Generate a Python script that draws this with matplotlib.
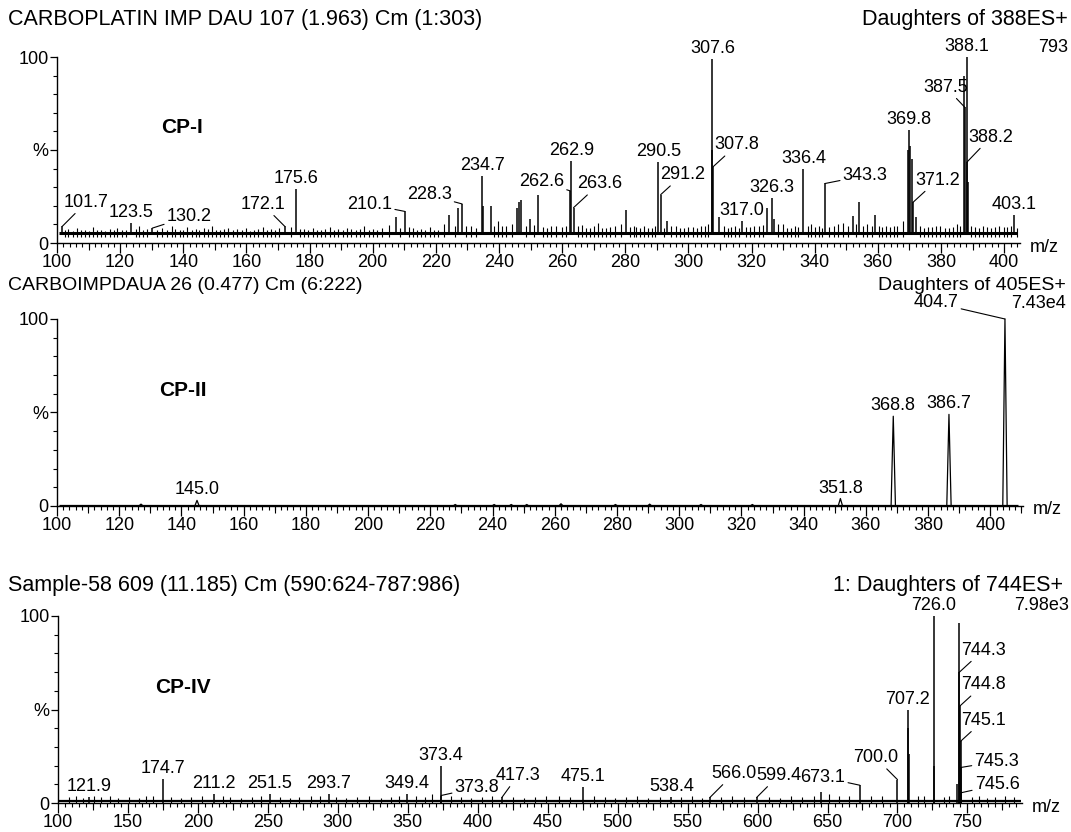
import numpy as np
import matplotlib.pyplot as plt
from matplotlib.ticker import MultipleLocator

plt.rcParams['font.family'] = ['Liberation Sans', 'DejaVu Sans']

W, H = 1071, 832

# ---- CP-I : daughters of 388 ----
top_mz = [101.7, 123.5, 130.2, 172.1, 175.6, 207.4, 210.1, 224.2, 227.1, 228.3,
          234.7, 235.0, 237.3, 245.6, 246.4, 247.1, 249.8, 252.2, 262.6, 262.9,
          263.6, 280.1, 290.5, 291.2, 293.2, 307.4, 307.6, 307.8, 309.6, 317.0,
          325.0, 326.3, 327.0, 336.4, 343.3, 352.2, 354.1, 359.0, 369.6, 369.8,
          370.3, 370.8, 371.2, 372.0, 387.2, 387.5, 388.1, 388.2, 388.5, 403.1]
top_int = [9, 11, 8, 9, 29, 14, 17, 15, 19, 21,
           36, 20, 20, 19, 22, 23, 13, 26, 28, 44,
           19, 18, 43.5, 26, 12, 50, 99, 41, 14, 12,
           19, 24, 13, 40, 32, 14.5, 22, 15, 50, 61,
           52, 45, 22, 14, 90, 73, 100, 43.5, 33, 15]
top_noise_mz = [102.4, 103.5, 105.0, 106.2, 107.6, 108.9, 110.2, 111.4, 112.7, 114.0,
                115.3, 116.8, 118.0, 119.1, 120.5, 121.7, 125.0, 126.0, 127.3, 128.4,
                131.8, 133.1, 134.7, 136.3, 137.5, 138.8, 140.0, 141.2, 142.6, 143.9,
                145.1, 146.5, 147.8, 149.2, 150.3, 151.6, 153.0, 154.3, 155.6, 157.0,
                158.5, 159.8, 161.0, 162.5, 163.8, 165.1, 166.5, 167.9, 169.2, 170.4,
                174.0, 177.0, 178.2, 179.6, 181.0, 182.4, 183.7, 185.0, 186.4, 187.8,
                189.1, 190.5, 191.8, 193.2, 194.6, 196.0, 197.3, 198.7, 200.1, 201.5,
                202.8, 205.0, 208.6, 211.5, 212.6, 214.0, 215.3, 216.7, 218.0, 219.3,
                220.7, 222.5, 226.0, 229.5, 231.0, 232.6, 238.4, 239.6, 241.0, 242.1,
                244.2, 248.5, 251.0, 253.8, 255.3, 256.6, 257.9, 260.1, 261.3, 265.0,
                266.2, 267.4, 268.7, 270.0, 271.3, 272.6, 274.0, 275.3, 276.6, 278.5,
                281.5, 282.6, 283.4, 284.7, 286.0, 287.1, 288.3, 289.4, 292.4, 294.6,
                296.0, 297.3, 298.7, 300.0, 301.4, 302.8, 304.1, 305.2, 306.2, 311.2,
                312.5, 313.6, 314.8, 316.0, 318.3, 319.6, 320.9, 322.3, 323.7, 328.4,
                329.8, 331.1, 332.4, 333.6, 334.7, 337.7, 338.9, 340.0, 341.2, 342.2,
                344.6, 346.1, 347.4, 348.8, 350.6, 353.1, 355.3, 356.7, 358.0, 360.2,
                361.4, 362.6, 363.9, 365.0, 366.2, 367.8, 373.2, 374.5, 375.8, 377.1,
                378.4, 379.8, 381.1, 382.4, 383.7, 385.0, 386.1, 389.4, 390.6, 391.9,
                393.2, 394.5, 395.9, 397.2, 398.5, 399.8, 401.0, 402.2, 404.0]
top_noise_int = [7, 7.5, 6.5, 8, 7, 7, 6.5, 8.5, 7, 7,
                 6.5, 7.5, 7, 8, 7, 7, 7.5, 9, 7, 7.5,
                 7, 8, 7, 9, 7.5, 7, 7, 8.5, 7, 7.5,
                 7, 8, 7.5, 9, 7, 7, 7.5, 8, 7, 7.5,
                 7, 8, 6.5, 7, 7.5, 8.5, 7, 7.5, 7, 8,
                 8.5, 7.5, 7.5, 7, 8, 7, 7, 7.5, 8.5, 7,
                 7.5, 7, 8, 7.5, 7, 7.5, 9, 7, 7.5, 7,
                 8, 9.5, 8, 8.5, 8, 7, 7.5, 7, 8.5, 7,
                 7, 10, 9, 9, 9, 8, 9, 12, 9, 9,
                 10, 9, 9.5, 8.5, 8, 9, 9, 8.5, 9, 9,
                 9.5, 8, 8, 9, 11, 8, 8, 8.5, 9, 10,
                 8.5, 9, 8.5, 8, 9, 8, 8, 9, 8, 9,
                 9, 8, 8, 8.5, 8.5, 8, 9, 9, 10, 9,
                 8, 8.5, 9, 8, 8.5, 8.5, 9, 9, 9.5, 10,
                 10, 8, 8, 9, 8.5, 9, 10, 8.5, 9, 8,
                 8.5, 9, 10, 11, 9, 10, 9, 10, 9, 9,
                 8.5, 9, 8.5, 9, 9, 12, 9, 8, 8.5, 8.5,
                 9, 9, 8, 8, 8.5, 10, 9, 9, 8.5, 8,
                 9, 8.5, 8, 8.5, 9, 8.5, 8.5, 9, 8]
top_base = 5.2
top_lab_mz = [101.7, 123.5, 130.2, 172.1, 175.6, 210.1, 228.3, 234.7, 262.6, 262.9,
              263.6, 290.5, 291.2, 307.6, 307.8, 317.0, 326.3, 336.4, 343.3, 369.8,
              371.2, 387.5, 388.1, 388.2, 403.1]
top_lab_int = [9, 11, 8, 9, 29, 17, 21, 36, 28, 44,
               19, 43.5, 26, 99, 41, 12, 24, 40, 32, 61,
               22, 73, 100, 43.5, 15]

# ---- CP-II : daughters of 405 ----
mid_mz = [127.0, 145.0, 228.0, 240.5, 246.0, 251.0, 262.0, 279.5, 290.5, 307.0,
          323.5, 351.8, 368.8, 386.7, 404.7]
mid_int = [1, 3, 0.8, 0.8, 0.8, 0.8, 1.2, 0.8, 1, 0.8,
           0.8, 4, 48, 49, 100]
mid_base = 0.3
mid_lab_mz = [145.0, 351.8, 368.8, 386.7, 404.7]
mid_lab_int = [3, 4, 48, 49, 100]

# ---- CP-IV : daughters of 744 ----
bot_mz = [121.9, 174.7, 211.2, 251.5, 293.7, 349.4, 373.4, 373.8, 417.3, 475.1,
          538.4, 566.0, 599.4, 645.0, 673.1, 700.0, 707.2, 707.7, 708.2, 726.0,
          726.4, 742.6, 743.9, 744.3, 744.8, 745.1, 745.3, 745.6]
bot_int = [3, 13, 5, 5, 5, 5, 20, 4, 3, 8.5,
           3, 3, 3, 6, 9.5, 12.5, 50, 40, 26, 100,
           20, 10, 96, 70, 52, 33, 19, 5.5]
bot_noise_mz = [108, 113, 118, 126, 131, 137, 143, 151, 158, 163, 168, 181, 188, 195,
                203, 218, 223, 231, 239, 245, 259, 266, 272, 281, 287, 299, 306, 314,
                322, 331, 338, 344, 356, 362, 367, 381, 388, 395, 403, 410, 425, 433,
                441, 449, 458, 466, 483, 491, 498, 506, 514, 522, 530, 545, 553, 560,
                574, 582, 590, 608, 616, 624, 632, 640, 651, 658, 665, 681, 689, 715,
                719, 733, 737, 753, 758, 764, 770, 777, 783]
bot_noise_int = [3, 3.5, 2.5, 4, 3, 3.5, 2.5, 3, 2.5, 3.5, 4, 3, 2.5, 3,
                 3.5, 4, 3, 2.5, 3, 3.5, 3, 2.5, 3, 3.5, 4, 3, 2.5, 3,
                 3.5, 2.5, 3, 3.5, 4, 3, 5, 3.5, 3, 2.5, 3, 3.5, 3, 2.5,
                 3, 3.5, 4, 3, 3.5, 3, 2.5, 3, 3.5, 2.5, 3, 3, 3.5, 2.5,
                 3, 3.5, 3, 3, 2.5, 3.5, 3, 4, 5, 4, 3.5, 4, 3.5, 4,
                 3.5, 3, 3.5, 3, 3.5, 2.5, 3, 4, 3]
bot_base = 0.9
bot_lab_mz = [121.9, 174.7, 211.2, 251.5, 293.7, 349.4, 373.4, 373.8, 417.3, 475.1,
              538.4, 566.0, 599.4, 673.1, 700.0, 707.2, 726.0, 744.3, 744.8, 745.1,
              745.3, 745.6]
bot_lab_int = [3, 13, 5, 5, 5, 5, 20, 4, 3, 8.5,
               3, 3, 3, 9.5, 12.5, 50, 100, 70, 52, 33,
               19, 5.5]

# label offsets in pixels (None = label sits on top of the peak)
top_off = [(24, 24), None, (37, 12), (-22, 22), None, (-35, 7), (-33, 9), None, (-29, 9), None,
           (26, 24), None, (22, 20), None, (24, 22), None, None, None, (40, 8), None,
           (24, 22), (-19, 20), None, (24, 25), None]
mid_off = [None, None, None, None, (-69, 16)]
bot_off = [None, None, None, None, None, None, None, (36, 8), (16, 22), None,
           None, (24, 24), (22, 22), (-37, 8), (-22, 22), None, None, (24, 22), (23, 21), (23, 21),
           (36, 6), (36, 8)]

FS = 13


def make_axes(left, top, right, bottom):
    return fig.add_axes([left / W, 1 - bottom / H, (right - left) / W, (bottom - top) / H])


def style_axes(ax, xlim, major, minor, medium, name):
    ax.set_xlim(*xlim)
    ax.set_ylim(0, 100)
    for s in ['top', 'right']:
        ax.spines[s].set_visible(False)
    for s in ['left', 'bottom']:
        ax.spines[s].set_linewidth(1.0)
    ax.xaxis.set_major_locator(MultipleLocator(major))
    ax.xaxis.set_minor_locator(MultipleLocator(minor))
    ax.set_yticks([0, 50, 100])
    ax.set_yticklabels(['0', '%', '100'])
    ax.yaxis.set_minor_locator(MultipleLocator(10))
    ax.tick_params(which='major', length=7, width=0.9, labelsize=FS, pad=1)
    ax.tick_params(which='minor', length=3, width=0.8)
    ax.tick_params(axis='y', which='major', length=5)
    if medium:
        sec = ax.secondary_xaxis(0)
        sec.set_xticks(medium)
        sec.tick_params(length=5, width=0.8, labelbottom=False)
        sec.spines['bottom'].set_visible(False)
    ax.annotate('m/z', (1, 0), xycoords='axes fraction', xytext=(10, -4),
                textcoords='offset pixels', ha='left', va='center', fontsize=FS)
    ax.text(0.13, 0.62, name, transform=ax.transAxes, fontsize=15, fontweight='bold',
            ha='center', va='center')


def add_labels(ax, mzs, ints, offs):
    for m, h, off in zip(mzs, ints, offs):
        txt = f'{m:.1f}'
        if off is None:
            ax.annotate(txt, (m, h), xytext=(0, 2), textcoords='offset pixels',
                        ha='center', va='bottom', fontsize=FS, annotation_clip=False)
        else:
            ax.annotate(txt, (m, h), xytext=off, textcoords='offset pixels',
                        ha='center', va='center', fontsize=FS, annotation_clip=False,
                        arrowprops=dict(arrowstyle='-', lw=0.8, color='black',
                                        shrinkA=0, shrinkB=0))


fig = plt.figure(figsize=(W / 100, H / 100), dpi=100)

# top panel
ax1 = make_axes(57, 57, 1020, 243)
style_axes(ax1, (100, 405), 20, 2, [110, 130, 150, 170, 190, 210, 230, 250, 270,
                                    290, 310, 330, 350, 370, 390], 'CP-I')
ax1.hlines(top_base, 100.5, 404, color='black', lw=2.2)
ax1.vlines(top_noise_mz, 3.4, top_noise_int, color='black', lw=0.8)
ax1.vlines(top_mz, top_base, top_int, color='black', lw=1.1, clip_on=False)
add_labels(ax1, top_lab_mz, top_lab_int, top_off)

# middle panel
ax2 = make_axes(57, 319, 1023, 506)
style_axes(ax2, (100, 410.5), 20, 2, [110, 130, 150, 170, 190, 210, 230, 250, 270,
                                      290, 310, 330, 350, 370, 390, 410], 'CP-II')
ax2.hlines(mid_base, 100.5, 409, color='black', lw=0.9)
px, py = [], []
for m, h in zip(mid_mz, mid_int):
    px += [m - 0.7, m, m + 0.7, np.nan]
    py += [0, h, 0, np.nan]
ax2.plot(px, py, color='black', lw=0.9, clip_on=False)
add_labels(ax2, mid_lab_mz, mid_lab_int, mid_off)

# bottom panel
ax3 = make_axes(58, 616, 1022, 803)
style_axes(ax3, (100, 789), 50, 5, [125, 175, 225, 275, 325, 375, 425, 475, 525,
                                    575, 625, 675, 725, 775], 'CP-IV')
ax3.hlines(bot_base, 100.5, 788, color='black', lw=1.6)
ax3.vlines(bot_noise_mz, 0, bot_noise_int, color='black', lw=0.8)
ax3.vlines(bot_mz, 0, bot_int, color='black', lw=1.1, clip_on=False)
add_labels(ax3, bot_lab_mz, bot_lab_int, bot_off)


# header texts
def ftext(x, y, s, ha='left', **kw):
    fig.text(x / W, 1 - y / H, s, ha=ha, va='center', **kw)


ftext(8, 20, 'CARBOPLATIN IMP DAU 107 (1.963) Cm (1:303)', fontsize=15.5)
ftext(1068, 20, 'Daughters of 388ES+', ha='right', fontsize=15.5)
ftext(1068, 47, '793', ha='right', fontsize=FS)
ftext(8, 285, 'CARBOIMPDAUA 26 (0.477) Cm (6:222)', fontsize=14)
ftext(1066, 285, 'Daughters of 405ES+', ha='right', fontsize=14)
ftext(1066, 303, '7.43e4', ha='right', fontsize=FS)
ftext(8, 585, 'Sample-58 609 (11.185) Cm (590:624-787:986)', fontsize=15.5)
ftext(1063, 585, '1: Daughters of 744ES+', ha='right', fontsize=15.5)
ftext(1069, 605, '7.98e3', ha='right', fontsize=FS)

fig.savefig('out.png', dpi=100)
